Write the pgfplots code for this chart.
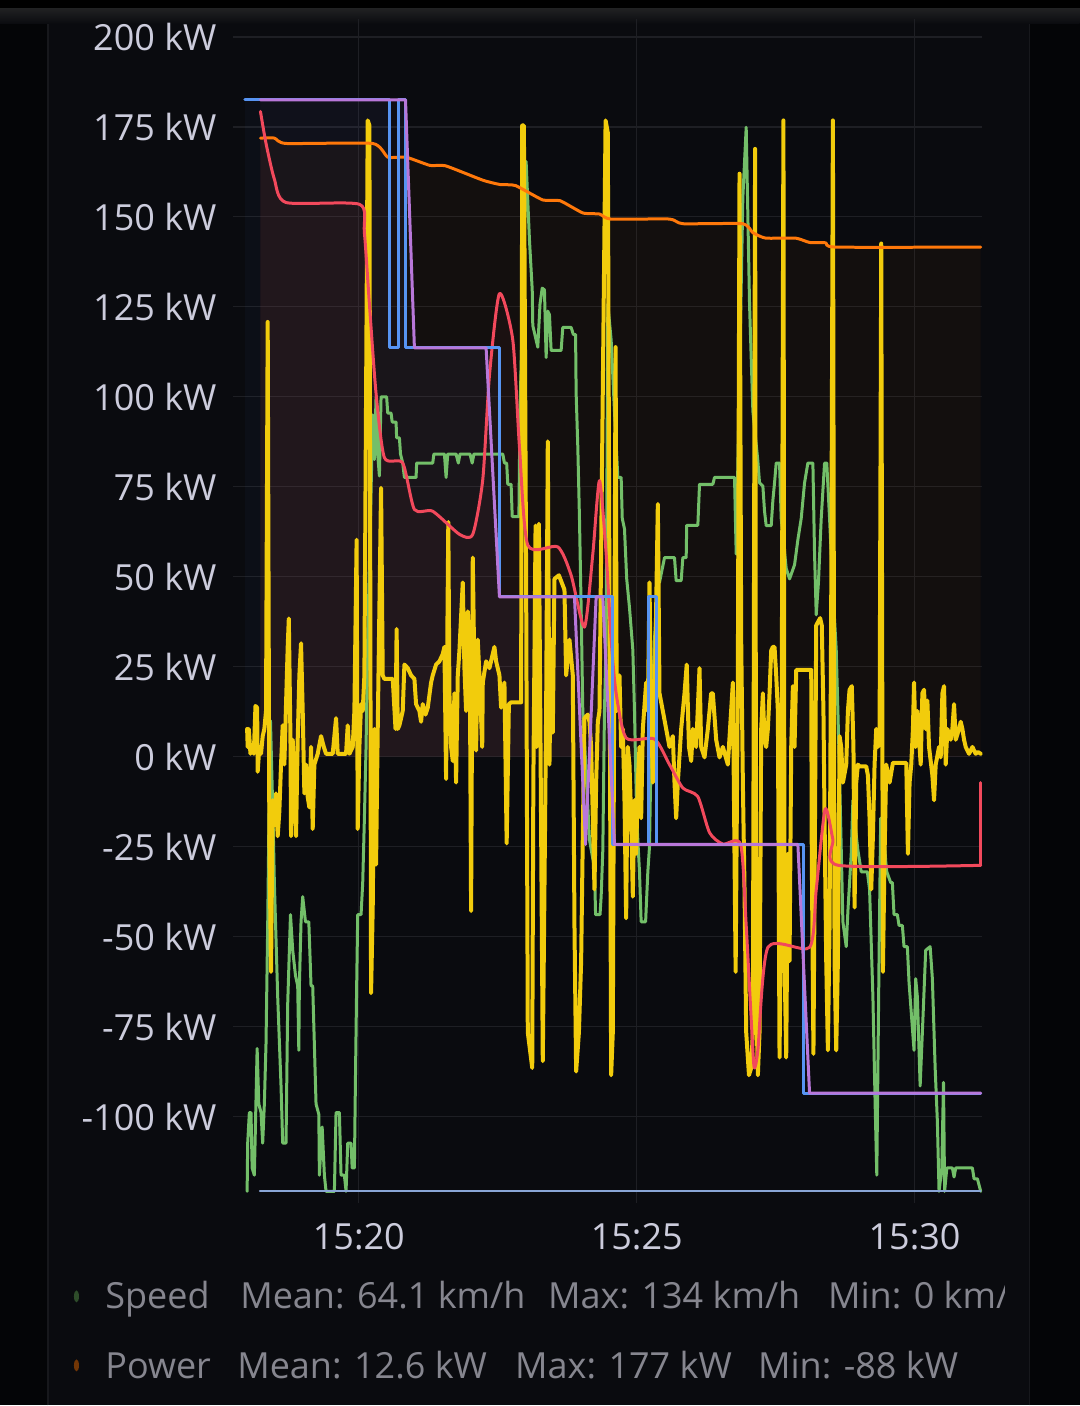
\documentclass[border=0pt]{standalone}
\usepackage{pgfplots}
\pgfplotsset{compat=1.18}
\usepackage{pgfplotstable}
\usepackage{fontspec}
\setmainfont{Open Sans}

\definecolor{pagebg}{HTML}{040507}
\definecolor{panelbg}{HTML}{0A0B0F}
\definecolor{paneledge}{HTML}{17181C}
\definecolor{gridc}{HTML}{1E1F24}
\definecolor{ticktext}{HTML}{CCCCDC}
\definecolor{legtext}{HTML}{86868F}
\definecolor{cgreen}{HTML}{73BF69}
\definecolor{cyellow}{HTML}{F2CC0C}
\definecolor{corange}{HTML}{FF780A}
\definecolor{cred}{HTML}{F2495C}
\definecolor{cblue}{HTML}{5794F2}
\definecolor{cpurple}{HTML}{B877D9}
\definecolor{cbase}{HTML}{8AA6D6}

% x = minutes after 15:00, y = kW
\pgfplotstableread{
x y
18.23 171.9
18.48 171.9
18.69 170.4
20.25 170.4
20.52 166.6
20.85 166.6
21.28 164.3
21.56 164.2
22.23 160.2
22.54 159.0
22.82 158.7
23.31 154.7
23.62 154.5
24.03 151.1
24.33 150.8
24.53 149.4
25.59 149.4
25.83 148.1
26.91 148.1
27.09 145.6
27.32 144.1
27.86 144.1
28.11 142.9
28.40 142.8
28.58 141.6
31.19 141.6
}\orangedata

\pgfplotstableread{
x y
18.23 179.3
18.33 170.4
18.48 160.5
18.69 154.0
20.01 153.5
20.10 145.6
20.19 125.8
20.31 100.9
20.46 83.1
20.79 81.6
21.00 68.7
21.33 68.2
21.81 61.8
22.05 61.8
22.23 77.0
22.35 105.9
22.53 128.7
22.77 115.8
22.89 86.1
23.04 58.8
23.58 58.3
23.82 50.4
24.06 36.0
24.21 56.3
24.33 76.7
24.45 56.4
24.54 32.5
24.63 17.6
24.81 5.2
25.32 4.9
25.59 -2.2
25.83 -8.7
26.10 -11.1
26.31 -21.1
26.55 -24.3
26.87 -24.4
26.97 -46.9
27.09 -81.6
27.12 -86.5
27.18 -81.6
27.36 -53.0
28.11 -53.0
28.23 -37.0
28.39 -14.6
28.53 -23.0
28.63 -30.2
31.19 -30.2
}\reddata

\pgfplotstableread{
x y
17.95 182.5
20.56 182.5
20.56 113.6
20.71 113.6
20.71 182.5
20.84 182.5
20.84 113.6
22.54 113.6
22.54 44.4
24.57 44.4
24.57 -24.4
25.21 -24.4
25.21 44.4
25.35 44.4
25.35 -24.4
28.00 -24.4
28.00 -93.5
31.19 -93.5
}\bluedata

\pgfplotstableread{
x y
18.23 182.5
20.84 182.5
21.00 113.6
22.29 113.6
22.53 44.4
23.88 44.4
24.08 -24.4
24.27 44.4
24.39 44.4
24.60 -24.4
27.90 -24.4
28.11 -93.5
31.19 -93.5
}\purpledata

\pgfplotstableread{
x y
17.99 -120.8
18.00 -107.4
18.03 -98.9
18.06 -98.9
18.08 -114.3
18.12 -116.3
18.17 -81.1
18.20 -96.5
18.24 -98.9
18.27 -107.4
18.30 -96.5
18.33 -79.6
18.36 -46.9
18.39 -7.2
18.41 10.0
18.46 -20.0
18.48 -35.0
18.54 -66.7
18.60 -91.5
18.63 -107.4
18.69 -107.4
18.72 -68.7
18.77 -43.9
18.81 -53.8
18.86 -60.8
18.90 -63.7
18.92 -81.6
18.93 -63.7
18.96 -45.9
18.99 -38.9
19.04 -45.9
19.10 -45.9
19.14 -63.7
19.17 -63.7
19.23 -96.5
19.28 -99.4
19.29 -116.3
19.34 -102.9
19.38 -116.3
19.41 -120.8
19.56 -120.8
19.59 -98.9
19.65 -98.9
19.68 -116.3
19.74 -116.3
19.77 -120.8
19.80 -107.4
19.86 -107.4
19.88 -114.3
19.92 -114.3
19.94 -88.5
19.96 -64.7
19.98 -43.9
20.04 -43.9
20.07 -35.0
20.10 -17.1
20.13 2.7
20.16 32.5
20.20 60.0
20.25 95.0
20.28 82.6
20.31 100.0
20.34 84.0
20.37 78.0
20.40 100.0
20.50 100.0
20.52 95.5
20.58 95.5
20.60 93.0
20.67 93.0
20.68 88.6
20.73 88.6
20.75 84.1
20.79 81.6
20.82 77.6
21.03 77.6
21.04 81.6
21.33 81.6
21.35 84.1
21.54 84.1
21.57 77.6
21.60 84.1
21.75 84.1
21.79 81.6
21.82 84.1
22.00 84.1
22.04 81.6
22.07 84.1
22.59 84.1
22.62 81.6
22.66 81.6
22.68 75.7
22.74 75.7
22.76 66.7
22.88 66.7
22.90 96.0
23.01 165.4
23.07 143.6
23.12 129.7
23.13 119.8
23.19 115.8
23.22 113.8
23.26 125.8
23.30 130.2
23.34 129.7
23.37 110.9
23.40 123.8
23.43 122.8
23.46 112.9
23.64 112.9
23.67 119.3
23.82 119.3
23.86 117.3
23.90 117.3
23.91 101.0
23.94 86.1
23.97 66.2
24.00 41.4
24.03 12.7
24.09 -4.2
24.15 -23.1
24.24 -31.0
24.26 -43.9
24.34 -43.9
24.36 -38.9
24.39 -26.0
24.42 12.7
24.45 32.5
24.48 125.8
24.54 115.8
24.60 96.0
24.66 77.6
24.72 77.6
24.74 66.2
24.78 63.3
24.82 49.4
24.87 41.4
24.93 29.7
24.96 12.7
25.00 -17.1
25.05 -32.0
25.08 -45.9
25.16 -45.9
25.20 -32.0
25.23 -25.0
25.26 2.7
25.32 32.5
25.38 48.4
25.41 48.4
25.50 55.3
25.68 55.3
25.71 48.9
25.80 48.9
25.83 55.3
25.89 55.3
25.90 64.3
26.10 64.3
26.13 75.7
26.37 75.7
26.40 77.6
26.76 77.6
26.79 56.3
26.85 105.9
26.91 155.5
26.97 174.9
27.03 125.8
27.09 96.0
27.18 82.1
27.21 76.1
27.27 75.2
27.30 68.2
27.33 64.2
27.42 64.2
27.45 71.2
27.48 76.1
27.51 81.6
27.57 81.6
27.60 66.2
27.69 52.3
27.75 49.4
27.84 53.3
27.90 60.3
27.96 66.2
28.02 76.1
28.08 81.6
28.17 81.6
28.20 56.3
28.23 39.4
28.27 48.4
28.32 66.2
28.38 81.6
28.42 81.6
28.47 66.2
28.53 46.4
28.59 29.7
28.62 12.7
28.65 -5.2
28.71 -45.9
28.77 -52.8
28.80 -42.9
28.86 -27.0
28.89 -12.1
28.93 -19.1
28.98 -26.0
29.04 -32.0
29.15 -32.0
29.19 -36.9
29.25 -66.7
29.29 -96.5
29.32 -116.3
29.36 -56.8
29.39 -17.1
29.45 -22.1
29.48 -29.0
29.50 -32.0
29.57 -35.0
29.60 -35.0
29.63 -43.9
29.69 -43.9
29.72 -46.9
29.78 -46.9
29.81 -52.8
29.87 -52.8
29.90 -62.7
29.99 -81.6
30.02 -61.7
30.05 -66.7
30.10 -91.5
30.14 -76.6
30.20 -53.8
30.28 -52.8
30.32 -61.7
30.37 -86.5
30.41 -101.4
30.44 -120.8
30.49 -114.3
30.52 -90.5
30.54 -120.8
30.58 -114.3
30.68 -114.3
30.71 -116.8
30.74 -114.3
31.04 -114.3
31.07 -117.3
31.13 -117.3
31.19 -120.8
}\greendata

\pgfplotstableread{
x y
17.99 7.7
18.00 2.7
18.02 7.7
18.05 0.8
18.08 2.7
18.11 0.8
18.14 14.1
18.17 13.6
18.18 -4.2
18.21 2.7
18.24 0.8
18.27 5.7
18.30 7.7
18.33 12.7
18.36 120.8
18.39 -22.1
18.42 -59.8
18.45 -12.1
18.48 -19.1
18.51 -10.2
18.54 -22.1
18.57 -15.1
18.60 -2.2
18.63 8.7
18.66 -2.2
18.69 14.6
18.72 30.5
18.74 38.4
18.77 4.7
18.78 -22.1
18.81 4.7
18.84 -5.2
18.87 -22.1
18.90 4.7
18.93 22.6
18.96 31.5
18.99 12.7
19.02 -10.2
19.05 -2.2
19.08 -11.2
19.11 -14.1
19.14 2.7
19.17 -20.1
19.20 -2.2
19.26 0.8
19.32 5.7
19.37 2.7
19.41 0.8
19.53 0.8
19.59 10.7
19.62 0.8
19.77 0.8
19.80 8.7
19.83 0.8
19.89 2.7
19.92 12.7
19.96 60.3
19.98 -20.1
20.01 2.7
20.04 14.6
20.07 12.7
20.10 22.6
20.16 176.8
20.19 175.4
20.22 -65.7
20.25 -41.9
20.28 7.7
20.31 -30.0
20.34 7.7
20.40 74.7
20.43 22.6
20.46 21.6
20.61 21.6
20.66 7.7
20.68 35.5
20.70 7.7
20.73 8.7
20.79 12.7
20.82 25.6
20.88 24.6
20.94 22.6
21.00 21.6
21.03 14.6
21.09 12.7
21.12 9.7
21.15 14.6
21.20 11.7
21.24 13.6
21.30 20.6
21.33 22.6
21.39 25.6
21.45 26.5
21.51 28.5
21.54 30.5
21.57 -6.2
21.61 65.2
21.63 17.6
21.66 2.7
21.69 -1.2
21.72 17.6
21.75 -7.2
21.78 22.6
21.81 29.5
21.87 48.4
21.90 24.6
21.93 12.7
21.96 40.4
22.00 17.6
22.02 -42.9
22.05 55.3
22.08 22.6
22.11 1.7
22.14 32.5
22.17 22.6
22.22 2.7
22.23 20.6
22.29 26.5
22.35 24.6
22.44 30.5
22.47 26.5
22.53 22.6
22.56 13.6
22.59 17.6
22.62 20.6
22.66 -24.1
22.70 14.6
22.74 15.1
22.92 15.1
22.94 175.4
22.97 175.4
23.01 50.0
23.04 -76.6
23.12 -86.5
23.14 -7.2
23.18 64.2
23.20 2.7
23.24 64.7
23.26 22.6
23.31 -84.6
23.34 -36.9
23.37 12.7
23.40 87.6
23.43 -2.2
23.46 32.5
23.49 6.7
23.52 49.4
23.60 50.4
23.70 46.4
23.73 22.6
23.79 32.5
23.85 22.6
23.88 -46.9
23.91 -87.5
23.96 -76.6
24.00 -56.8
24.03 -22.1
24.06 10.7
24.12 11.7
24.15 9.7
24.18 2.7
24.21 -17.1
24.24 -36.9
24.27 -7.2
24.30 9.7
24.33 12.7
24.44 176.8
24.48 173.4
24.54 -88.5
24.57 -76.6
24.62 113.8
24.64 12.7
24.69 22.6
24.72 2.7
24.75 7.7
24.78 -12.1
24.81 -44.9
24.84 2.7
24.87 -2.2
24.90 -17.1
24.93 -38.9
24.96 -12.1
24.99 -27.0
25.02 -7.2
25.05 2.7
25.08 -17.1
25.11 7.7
25.17 20.6
25.20 12.7
25.23 48.4
25.26 12.7
25.29 -7.2
25.32 12.7
25.38 70.2
25.41 17.6
25.47 12.7
25.53 7.7
25.59 2.7
25.65 5.7
25.68 -7.2
25.71 -17.1
25.74 -7.2
25.80 7.7
25.83 12.7
25.86 17.6
25.90 25.6
25.94 2.7
25.98 -1.2
26.01 7.7
26.07 2.7
26.13 24.6
26.16 2.7
26.22 -0.2
26.28 7.7
26.34 17.6
26.37 17.6
26.43 4.7
26.49 -0.2
26.55 2.7
26.64 -2.2
26.73 20.6
26.78 -59.8
26.82 22.6
26.85 162.0
26.88 32.5
26.91 -7.2
26.94 -36.9
26.97 -76.6
27.02 -88.5
27.06 -86.5
27.09 -76.6
27.13 168.9
27.15 -66.7
27.18 -88.5
27.21 -76.6
27.24 7.7
27.27 17.6
27.30 4.7
27.33 2.7
27.36 7.7
27.39 17.6
27.42 29.5
27.45 30.5
27.48 30.5
27.51 22.6
27.54 12.7
27.57 -83.6
27.60 -36.9
27.64 176.8
27.66 -56.8
27.69 -83.6
27.72 -27.0
27.75 -56.8
27.78 2.7
27.81 19.6
27.84 2.7
27.87 24.1
28.14 24.1
28.15 -27.0
28.18 -82.6
28.20 -36.9
28.23 36.5
28.30 38.5
28.33 36.5
28.36 12.7
28.38 -17.1
28.41 -56.8
28.44 -81.6
28.47 -46.9
28.50 43.4
28.53 176.8
28.56 -56.8
28.59 -81.6
28.62 -56.8
28.65 5.7
28.68 2.7
28.71 -7.2
28.77 -2.2
28.80 12.7
28.83 18.6
28.87 19.6
28.90 2.7
28.92 -41.9
28.95 -7.2
28.98 -2.2
29.01 -2.7
29.13 -2.7
29.16 -5.2
29.19 -17.1
29.22 -36.9
29.25 -22.1
29.28 -2.2
29.31 7.7
29.34 2.7
29.37 4.7
29.40 142.6
29.43 -59.8
29.46 -27.0
29.49 -2.2
29.55 -7.2
29.61 -1.7
29.85 -1.7
29.88 -27.0
29.91 -7.2
29.94 -2.2
29.97 7.7
29.99 20.6
30.02 2.7
30.05 12.7
30.11 -2.2
30.14 17.6
30.17 18.6
30.20 7.7
30.23 15.6
30.26 2.7
30.32 -5.2
30.35 -12.1
30.38 -2.2
30.44 2.7
30.47 -0.2
30.50 17.6
30.53 19.6
30.56 -2.2
30.59 7.7
30.65 4.7
30.68 7.7
30.71 14.6
30.74 4.7
30.80 7.7
30.83 9.7
30.86 7.7
30.89 4.7
30.92 2.7
30.98 0.8
31.04 2.7
31.10 0.8
31.14 1.3
31.19 0.8
}\yellowdata

\begin{document}
\begin{tikzpicture}
% page and panel, laid out in image pixels (1 px = 0.5 pt)
\begin{scope}[x=0.5pt,y=0.5pt]
  \fill[pagebg] (0,0) rectangle (1080,1406);
  \fill[panelbg] (48,0) rectangle (1030,1398);
  \draw[paneledge, line width=0.6pt] (48,0) -- (48,1390);
  \draw[paneledge, line width=0.6pt] (1030,0) -- (1030,1390);
  \shade[top color=black!70!white!40!pagebg, bottom color=panelbg] (0,1398) rectangle (1080,1382);
  \fill[black] (0,1398) rectangle (1080,1406);
\end{scope}

\begin{axis}[
    at={(116.5pt,101.3pt)}, anchor=south west,
    width=374.9pt, height=592.2pt, scale only axis,
    xmin=17.734, xmax=31.22, ymin=-124, ymax=205,
    axis line style={draw=none},
    major tick length=0pt,
    xtick={20,25,30}, xticklabels={15:20,15:25,15:30},
    ytick={-100,-75,...,200},
    yticklabels={-100 kW,-75 kW,-50 kW,-25 kW,0 kW,25 kW,50 kW,75 kW,100 kW,125 kW,150 kW,175 kW,200 kW},
    xmajorgrids, ymajorgrids,
    grid style={draw=gridc, line width=0.6pt},
    ticklabel style={font=\fontsize{18}{20}\selectfont, text=ticktext, inner sep=0pt},
    yticklabel style={anchor=east, xshift=-8pt},
    xticklabel style={anchor=north, yshift=-10pt},
    every axis plot/.append style={line join=round, line cap=round},
  ]
  % faint fills under the lines, only above the zero line
  \begin{scope}
    \clip (axis cs:17,0) rectangle (axis cs:32,210);
    \addplot[draw=none, fill=cblue, fill opacity=0.035] table {\bluedata} \closedcycle;
    \addplot[draw=none, fill=cpurple, fill opacity=0.025] table {\purpledata} \closedcycle;
    \addplot[draw=none, fill=corange, fill opacity=0.04] table {\orangedata} \closedcycle;
    \addplot[draw=none, fill=cred, fill opacity=0.04] table {\reddata} \closedcycle;
  \end{scope}

  \addplot[cgreen, line width=1.5pt] table {\greendata};
  \addplot[cyellow, line width=2pt] table {\yellowdata};
  \addplot[corange, line width=1.5pt, smooth, tension=0.3] table {\orangedata};
  \addplot[cred, line width=1.5pt, smooth, tension=0.4] table {\reddata};
  \addplot[cred, line width=1.5pt] coordinates {(31.19,-30.2) (31.19,-7.2)};
  \addplot[cblue, line width=1.5pt] table {\bluedata};
  \addplot[cpurple, line width=1.5pt] table {\purpledata};
  \addplot[cbase, line width=1pt] coordinates {(18.22,-120.8) (31.19,-120.8)};
\end{axis}

% legend rows
\begin{scope}[x=0.5pt,y=0.5pt, every node/.style={anchor=base west, inner sep=0pt, text=legtext, font=\fontsize{18}{20}\selectfont}]
  \fill[cgreen!40!black] (76.5,109) ellipse (2.5 and 6);
  \fill[corange!45!black] (76.5,40) ellipse (2.5 and 6);
  \clip (0,0) rectangle (1005,1406);
  \node at (105,97) {Speed};
  \node at (240,97) {Mean: 64.1 km/h};
  \node at (548,97) {Max: 134 km/h};
  \node at (828,97) {Min: 0 km/h};
  \node at (105,27) {Power};
  \node at (237,27) {Mean: 12.6 kW};
  \node at (515,27) {Max: 177 kW};
  \node at (758,27) {Min: -88 kW};
\end{scope}
\end{tikzpicture}
\end{document}
